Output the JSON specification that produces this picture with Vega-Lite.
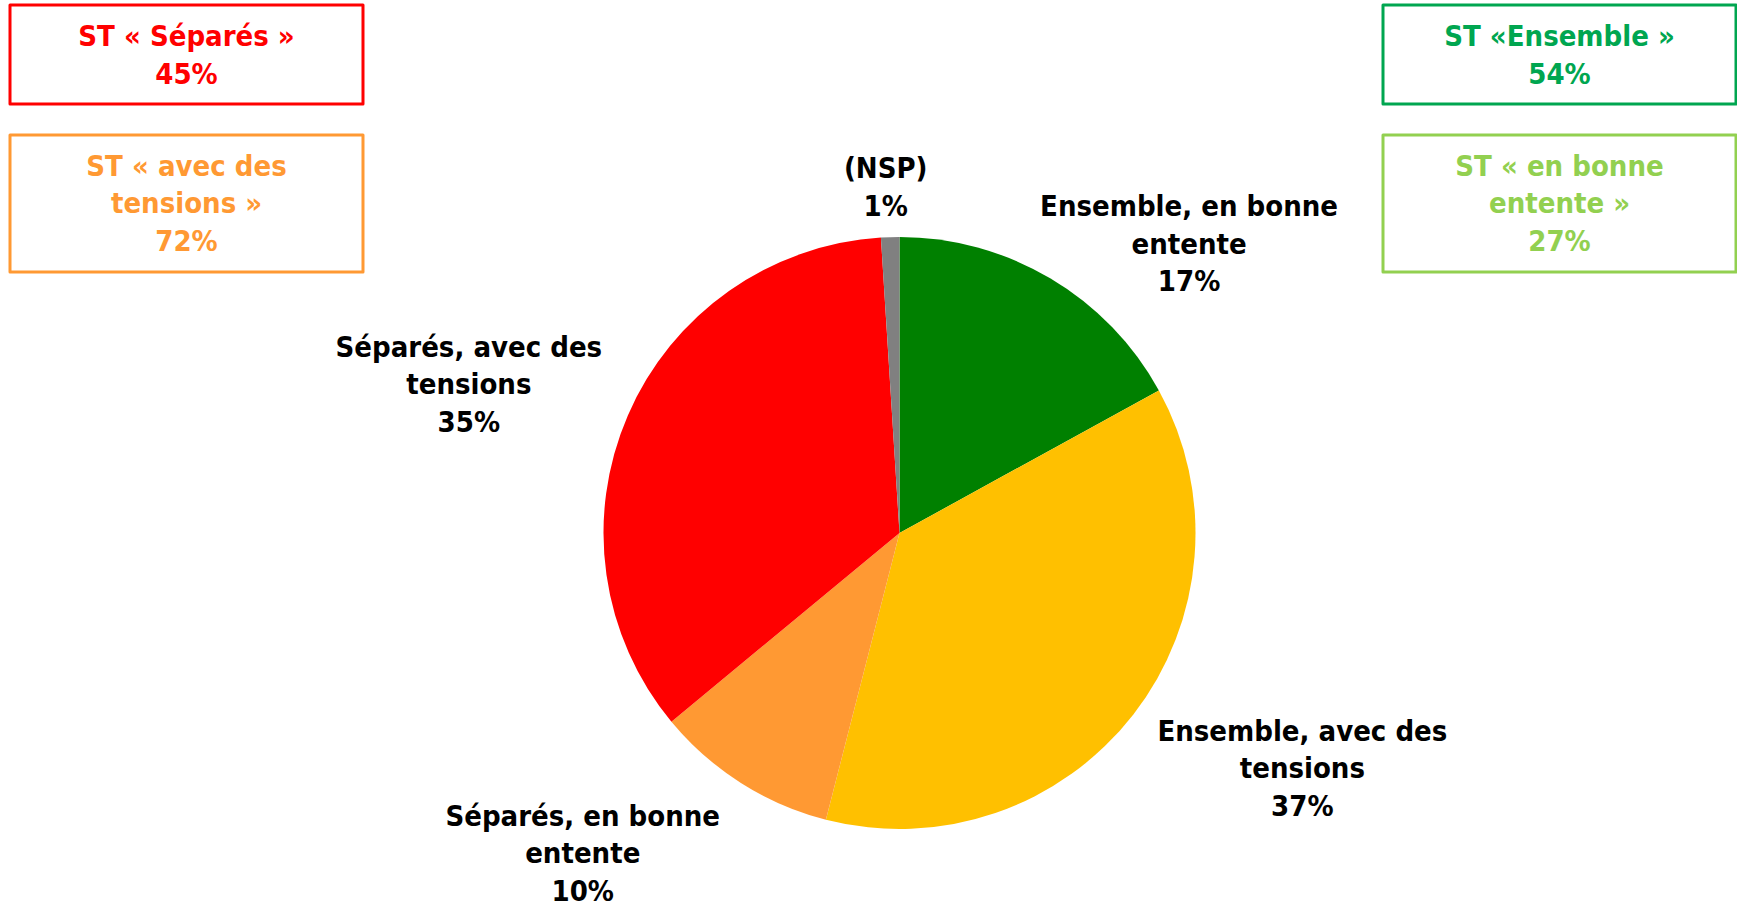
{
  "$schema": "https://vega.github.io/schema/vega-lite/v6.json",
  "width": 1675,
  "height": 738,
  "autosize": {"type": "none"},
  "padding": {"left": 62, "top": 164, "right": 0, "bottom": 0},
  "background": "white",
  "config": {"view": {"stroke": null}, "font": "DejaVu Sans Condensed"},
  "datasets": {
    "parts": [
      {"categorie": "Ensemble, en bonne entente", "libelle": "Ensemble, en bonne\nentente\n17%", "valeur": 17, "ordre": 1},
      {"categorie": "Ensemble, avec des tensions", "libelle": "Ensemble, avec des\ntensions\n37%", "valeur": 37, "ordre": 2},
      {"categorie": "Séparés, en bonne entente", "libelle": "Séparés, en bonne\nentente\n10%", "valeur": 10, "ordre": 3},
      {"categorie": "Séparés, avec des tensions", "libelle": "Séparés, avec des\ntensions\n35%", "valeur": 35, "ordre": 4},
      {"categorie": "(NSP)", "libelle": "(NSP)\n1%", "valeur": 1, "ordre": 5}
    ],
    "totaux": [
      {"cote": "gauche", "rang": "1", "groupe": "Séparés", "texte": "ST « Séparés »\n45%"},
      {"cote": "gauche", "rang": "2", "groupe": "avec des tensions", "texte": "ST « avec des\ntensions »\n72%"},
      {"cote": "droite", "rang": "1", "groupe": "Ensemble", "texte": "ST «Ensemble »\n54%"},
      {"cote": "droite", "rang": "2", "groupe": "en bonne entente", "texte": "ST « en bonne\nentente »\n27%"}
    ]
  },
  "layer": [
    {
      "data": {"name": "parts"},
      "mark": {"type": "arc", "outerRadius": 296},
      "encoding": {
        "theta": {"field": "valeur", "type": "quantitative", "stack": true},
        "order": {"field": "ordre", "type": "quantitative"},
        "color": {
          "field": "categorie", "type": "nominal",
          "scale": {
            "domain": ["Ensemble, en bonne entente", "Ensemble, avec des tensions", "Séparés, en bonne entente", "Séparés, avec des tensions", "(NSP)"],
            "range": ["#008000", "#FFC000", "#FF9933", "#FF0000", "#808080"]
          },
          "legend": null
        }
      }
    },
    {
      "data": {"name": "parts"},
      "mark": {"type": "text", "radius": 396, "dx": 88, "dy": 15, "fontSize": 29, "fontWeight": "bold", "font": "DejaVu Sans Condensed", "lineBreak": "\n", "lineHeight": 37.5, "align": "center", "baseline": "middle", "color": "#000000"},
      "encoding": {
        "theta": {"field": "valeur", "type": "quantitative", "stack": true},
        "order": {"field": "ordre", "type": "quantitative"},
        "text": {"field": "libelle"},
        "opacity": {"condition": {"test": "datum.categorie === 'Ensemble, en bonne entente'", "value": 1}, "value": 0}
      }
    },
    {
      "data": {"name": "parts"},
      "mark": {"type": "text", "radius": 463, "dx": 37, "dy": -85, "fontSize": 29, "fontWeight": "bold", "font": "DejaVu Sans Condensed", "lineBreak": "\n", "lineHeight": 37.5, "align": "center", "baseline": "middle", "color": "#000000"},
      "encoding": {
        "theta": {"field": "valeur", "type": "quantitative", "stack": true},
        "order": {"field": "ordre", "type": "quantitative"},
        "text": {"field": "libelle"},
        "opacity": {"condition": {"test": "datum.categorie === 'Ensemble, avec des tensions'", "value": 1}, "value": 0}
      }
    },
    {
      "data": {"name": "parts"},
      "mark": {"type": "text", "radius": 440, "dx": -81, "dy": -88, "fontSize": 29, "fontWeight": "bold", "font": "DejaVu Sans Condensed", "lineBreak": "\n", "lineHeight": 37.5, "align": "center", "baseline": "middle", "color": "#000000"},
      "encoding": {
        "theta": {"field": "valeur", "type": "quantitative", "stack": true},
        "order": {"field": "ordre", "type": "quantitative"},
        "text": {"field": "libelle"},
        "opacity": {"condition": {"test": "datum.categorie === 'Séparés, en bonne entente'", "value": 1}, "value": 0}
      }
    },
    {
      "data": {"name": "parts"},
      "mark": {"type": "text", "radius": 454, "dx": -14, "dy": -5, "fontSize": 29, "fontWeight": "bold", "font": "DejaVu Sans Condensed", "lineBreak": "\n", "lineHeight": 37.5, "align": "center", "baseline": "middle", "color": "#000000"},
      "encoding": {
        "theta": {"field": "valeur", "type": "quantitative", "stack": true},
        "order": {"field": "ordre", "type": "quantitative"},
        "text": {"field": "libelle"},
        "opacity": {"condition": {"test": "datum.categorie === 'Séparés, avec des tensions'", "value": 1}, "value": 0}
      }
    },
    {
      "data": {"name": "parts"},
      "mark": {"type": "text", "radius": 343, "dx": -3, "dy": -21, "fontSize": 29, "fontWeight": "bold", "font": "DejaVu Sans Condensed", "lineBreak": "\n", "lineHeight": 37.5, "align": "center", "baseline": "middle", "color": "#000000"},
      "encoding": {
        "theta": {"field": "valeur", "type": "quantitative", "stack": true},
        "order": {"field": "ordre", "type": "quantitative"},
        "text": {"field": "libelle"},
        "opacity": {"condition": {"test": "datum.categorie === '(NSP)'", "value": 1}, "value": 0}
      }
    },
    {
      "data": {"name": "totaux"},
      "transform": [{"filter": "datum.rang === '1'"}],
      "mark": {"type": "rect", "fill": "white", "strokeWidth": 3, "strokeJoin": "round"},
      "encoding": {
        "x": {"field": "cote", "type": "nominal", "scale": {"type": "band", "domain": ["gauche", "droite"], "range": [-52, 1674], "paddingInner": 0.7429, "paddingOuter": 0}, "axis": null},
        "y": {"field": "rang", "type": "nominal", "scale": {"type": "band", "domain": ["1", "2"], "range": [-159, 89], "paddingInner": 0.3356, "paddingOuter": 0}, "axis": null},
        "stroke": {"field": "groupe", "type": "nominal", "scale": {"domain": ["Séparés", "avec des tensions", "Ensemble", "en bonne entente"], "range": ["#FF0000", "#FF9933", "#00A650", "#92D050"]}, "legend": null}
      }
    },
    {
      "data": {"name": "totaux"},
      "transform": [{"filter": "datum.rang === '2'"}],
      "mark": {"type": "rect", "fill": "white", "strokeWidth": 3, "strokeJoin": "round", "height": {"band": 1.3838}},
      "encoding": {
        "x": {"field": "cote", "type": "nominal", "scale": {"type": "band", "domain": ["gauche", "droite"], "range": [-52, 1674], "paddingInner": 0.7429, "paddingOuter": 0}, "axis": null},
        "y": {"field": "rang", "type": "nominal", "scale": {"type": "band", "domain": ["1", "2"], "range": [-159, 89], "paddingInner": 0.3356, "paddingOuter": 0}, "axis": null},
        "stroke": {"field": "groupe", "type": "nominal", "scale": {"domain": ["Séparés", "avec des tensions", "Ensemble", "en bonne entente"], "range": ["#FF0000", "#FF9933", "#00A650", "#92D050"]}, "legend": null}
      }
    },
    {
      "data": {"name": "totaux"},
      "transform": [{"filter": "datum.rang === '1'"}],
      "mark": {"type": "text", "dy": -17, "fontSize": 29, "fontWeight": "bold", "font": "DejaVu Sans Condensed", "lineBreak": "\n", "lineHeight": 37.5, "align": "center", "baseline": "middle"},
      "encoding": {
        "x": {"field": "cote", "type": "nominal", "scale": {"type": "band", "domain": ["gauche", "droite"], "range": [-52, 1674], "paddingInner": 0.7429, "paddingOuter": 0}, "axis": null},
        "y": {"field": "rang", "type": "nominal", "scale": {"type": "band", "domain": ["1", "2"], "range": [-159, 89], "paddingInner": 0.3356, "paddingOuter": 0}, "axis": null},
        "text": {"field": "texte"},
        "fill": {"field": "groupe", "type": "nominal", "scale": {"domain": ["Séparés", "avec des tensions", "Ensemble", "en bonne entente"], "range": ["#FF0000", "#FF9933", "#00A650", "#92D050"]}, "legend": null}
      }
    },
    {
      "data": {"name": "totaux"},
      "transform": [{"filter": "datum.rang === '2'"}],
      "mark": {"type": "text", "dy": -37, "fontSize": 29, "fontWeight": "bold", "font": "DejaVu Sans Condensed", "lineBreak": "\n", "lineHeight": 37.5, "align": "center", "baseline": "middle"},
      "encoding": {
        "x": {"field": "cote", "type": "nominal", "scale": {"type": "band", "domain": ["gauche", "droite"], "range": [-52, 1674], "paddingInner": 0.7429, "paddingOuter": 0}, "axis": null},
        "y": {"field": "rang", "type": "nominal", "scale": {"type": "band", "domain": ["1", "2"], "range": [-159, 89], "paddingInner": 0.3356, "paddingOuter": 0}, "axis": null},
        "text": {"field": "texte"},
        "fill": {"field": "groupe", "type": "nominal", "scale": {"domain": ["Séparés", "avec des tensions", "Ensemble", "en bonne entente"], "range": ["#FF0000", "#FF9933", "#00A650", "#92D050"]}, "legend": null}
      }
    }
  ]
}
